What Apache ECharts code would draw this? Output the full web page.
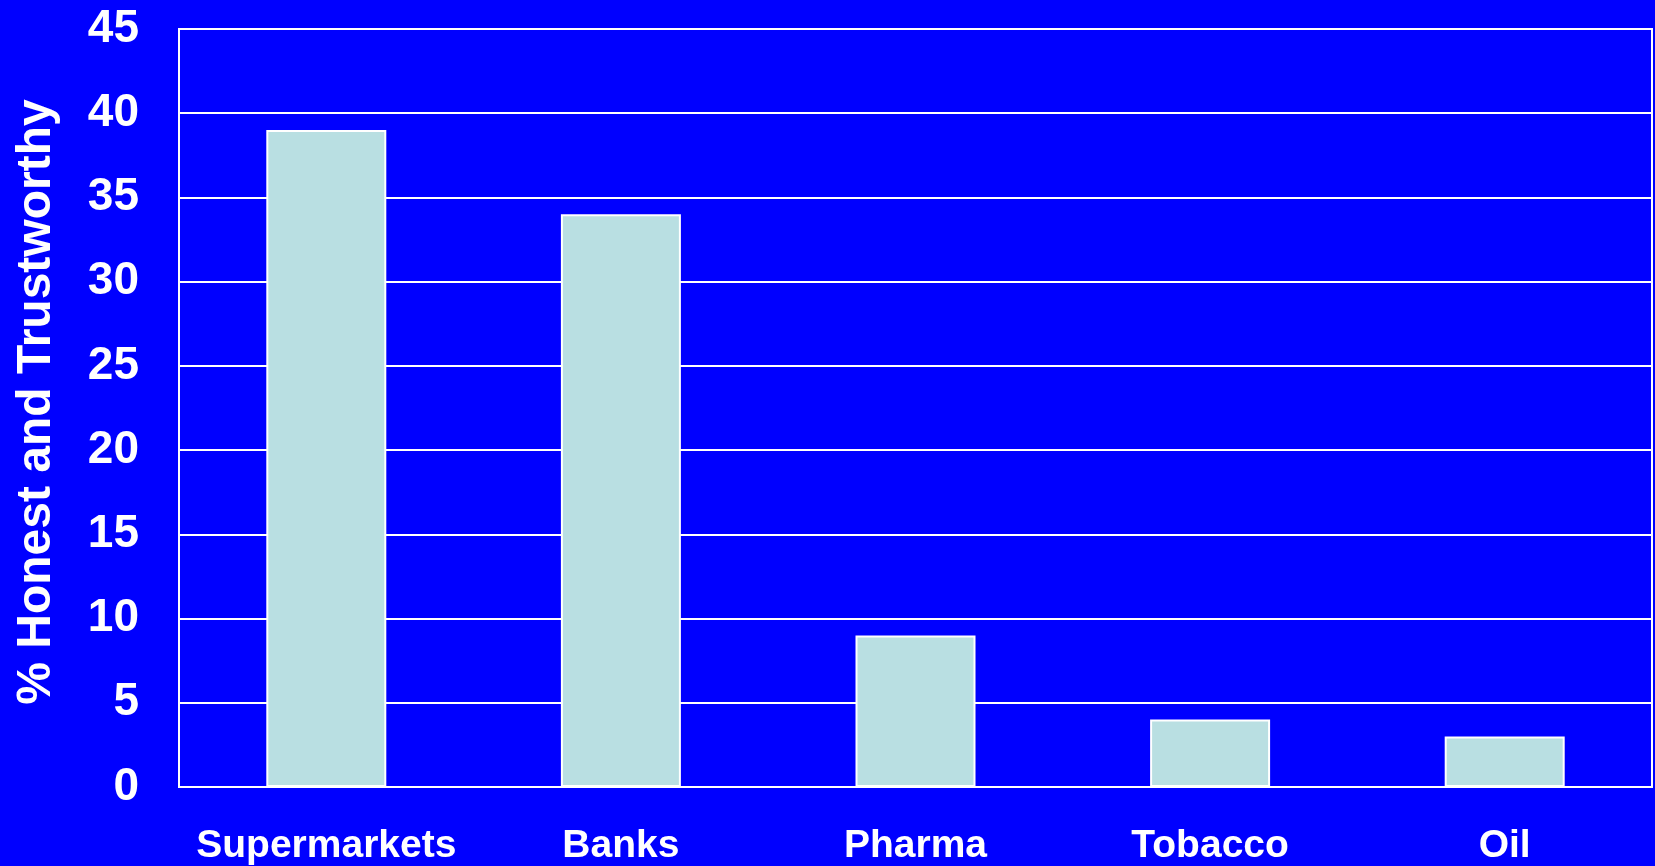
<!DOCTYPE html>
<html><head><meta charset="utf-8">
<script src="https://cdn.jsdelivr.net/npm/echarts@6/dist/echarts.min.js"></script>
<style>html,body{margin:0;padding:0;background:#0000FF;}#c{width:1655px;height:866px;}</style>
</head><body><div id="c"></div>
<script>
const categories = ["Supermarkets", "Banks", "Pharma", "Tobacco", "Oil"];
const values = [39, 34, 9, 4, 3];
const yTicks = { min: 0, max: 45, interval: 5 };
const yTitle = "% Honest and Trustworthy";

const chart = echarts.init(document.getElementById('c'));
const font = "'Liberation Sans', Arial, sans-serif";
chart.setOption({
  backgroundColor: '#0000FF',
  animation: false,
  grid: { left: 179, right: 3, top: 29, bottom: 77, show: true, borderColor: '#ffffff', borderWidth: 2 },
  xAxis: {
    type: 'category', data: categories,
    axisLine: { lineStyle: { color: '#ffffff', width: 2 } },
    axisTick: { show: false },
    axisLabel: { color: '#ffffff', fontWeight: 'bold', fontSize: 39, fontFamily: font, margin: 40, interval: 0 }
  },
  yAxis: {
    type: 'value', min: yTicks.min, max: yTicks.max, interval: yTicks.interval,
    axisLine: { show: true, lineStyle: { color: '#ffffff', width: 2 } },
    axisTick: { show: false },
    splitLine: { lineStyle: { color: '#ffffff', width: 2 } },
    axisLabel: { color: '#ffffff', fontWeight: 'bold', fontSize: 46, fontFamily: font, margin: 40 }
  },
  graphic: [{
    type: 'text',
    x: 37, y: 402,
    rotation: Math.PI / 2,
    style: { text: yTitle, fill: '#ffffff', font: 'bold 48px ' + font, textAlign: 'center', textVerticalAlign: 'middle' }
  }],
  series: [{
    type: 'bar', data: values, barWidth: 120,
    itemStyle: { color: '#B9DFE2', borderColor: '#ffffff', borderWidth: 2 }
  }]
});
</script></body></html>
